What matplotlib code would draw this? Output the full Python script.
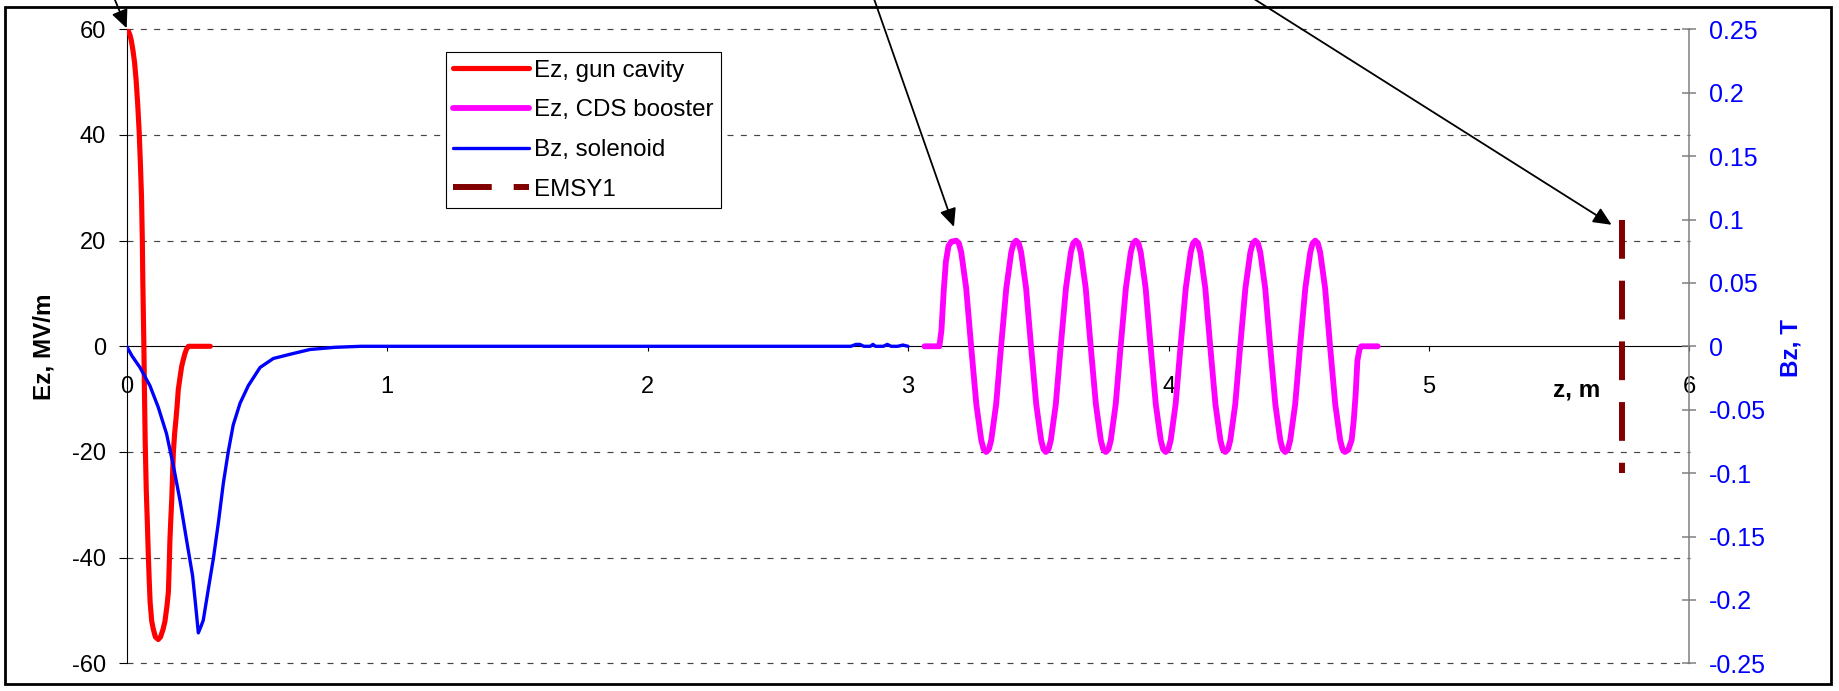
import matplotlib
matplotlib.use("Agg")
import matplotlib.pyplot as plt
from matplotlib.patches import Rectangle

plt.rcParams['font.family'] = ['Liberation Sans', 'DejaVu Sans']
plt.rcParams['lines.scale_dashes'] = False
plt.rcParams['axes.unicode_minus'] = False

# ---------------- field data ----------------
# gun cavity Ez [MV/m] versus z [m]
z_gun = [0.000, 0.006, 0.012, 0.018, 0.024, 0.030, 0.036, 0.042, 0.048, 0.053,
         0.057, 0.060, 0.062, 0.064, 0.066, 0.068, 0.071, 0.075, 0.079, 0.083,
         0.087, 0.090, 0.096, 0.102, 0.110, 0.121, 0.130, 0.140, 0.147, 0.155,
         0.160, 0.163, 0.166, 0.170, 0.173, 0.176, 0.179, 0.184, 0.189, 0.194,
         0.198, 0.205, 0.211, 0.218, 0.224, 0.230, 0.237, 0.260, 0.290, 0.321]
ez_gun = [60.0, 59.7, 59.0, 57.8, 56.0, 53.8, 50.5, 46.0, 40.5, 34.0,
          28.0, 20.0, 12.0, 6.0, 0.0, -8.0, -18.0, -27.0, -33.0, -39.5,
          -45.0, -48.5, -52.0, -53.5, -55.0, -55.5, -55.0, -53.5, -52.0, -49.0,
          -46.5, -42.0, -36.6, -32.0, -29.0, -24.5, -20.2, -16.5, -13.9, -11.0,
          -8.2, -5.8, -3.8, -2.4, -1.3, -0.5, 0.0, 0.0, 0.0, 0.0]

# CDS booster Ez [MV/m] versus z [m]
z_booster = [
    3.063, 3.120, 3.128, 3.137, 3.145, 3.155, 3.166,
    3.185, 3.195, 3.204, 3.223, 3.242, 3.262, 3.281, 3.290,
    3.300, 3.310, 3.319, 3.338, 3.357, 3.377, 3.396, 3.405,
    3.415, 3.425, 3.434, 3.453, 3.472, 3.492, 3.511, 3.520,
    3.529, 3.539, 3.548, 3.567, 3.586, 3.606, 3.625, 3.634,
    3.644, 3.654, 3.663, 3.682, 3.701, 3.721, 3.740, 3.749,
    3.759, 3.769, 3.778, 3.797, 3.816, 3.836, 3.855, 3.864,
    3.874, 3.884, 3.893, 3.912, 3.931, 3.951, 3.970, 3.979,
    3.989, 3.999, 4.008, 4.027, 4.046, 4.066, 4.085, 4.094,
    4.103, 4.113, 4.122, 4.141, 4.160, 4.180, 4.199, 4.208,
    4.218, 4.228, 4.237, 4.256, 4.275, 4.295, 4.314, 4.323,
    4.333, 4.343, 4.352, 4.371, 4.390, 4.410, 4.429, 4.438,
    4.448, 4.458, 4.467, 4.486, 4.505, 4.525, 4.544, 4.553,
    4.563, 4.573, 4.582, 4.601, 4.620, 4.640, 4.659, 4.668,
    4.677, 4.690, 4.703, 4.711, 4.718, 4.725, 4.733, 4.740, 4.803,
]
ez_booster = [
    0.0, 0.0, 3.0, 10.7, 16.0, 19.0, 19.8,
    20.0, 19.5, 17.8, 11.0, 0.0, -11.0, -17.8, -19.5,
    -20.0, -19.5, -17.8, -11.0, 0.0, 11.0, 17.8, 19.5,
    20.0, 19.5, 17.8, 11.0, 0.0, -11.0, -17.8, -19.5,
    -20.0, -19.5, -17.8, -11.0, 0.0, 11.0, 17.8, 19.5,
    20.0, 19.5, 17.8, 11.0, 0.0, -11.0, -17.8, -19.5,
    -20.0, -19.5, -17.8, -11.0, 0.0, 11.0, 17.8, 19.5,
    20.0, 19.5, 17.8, 11.0, 0.0, -11.0, -17.8, -19.5,
    -20.0, -19.5, -17.8, -11.0, 0.0, 11.0, 17.8, 19.5,
    20.0, 19.5, 17.8, 11.0, 0.0, -11.0, -17.8, -19.5,
    -20.0, -19.5, -17.8, -11.0, 0.0, 11.0, 17.8, 19.5,
    20.0, 19.5, 17.8, 11.0, 0.0, -11.0, -17.8, -19.5,
    -20.0, -19.5, -17.8, -11.0, 0.0, 11.0, 17.8, 19.5,
    20.0, 19.5, 17.8, 11.0, 0.0, -11.0, -17.8, -19.5,
    -20.0, -19.6, -17.7, -14.0, -9.3, -2.7, -0.5, 0.0, 0.0,
]

# solenoid Bz [T] versus z [m]
z_solenoid = [0.000, 0.020, 0.051, 0.089, 0.121, 0.153, 0.179, 0.205, 0.230, 0.253,
              0.265, 0.275, 0.285, 0.294, 0.313, 0.333, 0.352, 0.371, 0.390, 0.409,
              0.435, 0.467, 0.512, 0.563, 0.627, 0.704, 0.800, 0.900, 1.200, 1.600,
              2.000, 2.400, 2.780, 2.800, 2.815, 2.830, 2.855, 2.865, 2.875, 2.905,
              2.920, 2.935, 2.960, 2.980, 3.000]
bz_solenoid = [0.0, -0.0075, -0.0167, -0.031, -0.048, -0.069, -0.094, -0.122, -0.153, -0.181,
               -0.205, -0.226, -0.221, -0.216, -0.192, -0.167, -0.139, -0.108, -0.083, -0.062,
               -0.045, -0.031, -0.0167, -0.0096, -0.0063, -0.0025, -0.0008, 0.0, 0.0, 0.0,
               0.0, 0.0, 0.0, 0.0015, 0.0015, 0.0, 0.0, 0.0015, 0.0, 0.0,
               0.0015, 0.0, 0.0, 0.001, 0.0]

# EMSY1 screen station marker (drawn on the Bz axis)
z_emsy1 = [5.74, 5.74]
mark_emsy1 = [0.1, -0.1]

series_labels = ['Ez, gun cavity', 'Ez, CDS booster', 'Bz, solenoid', 'EMSY1']

# ---------------- axis scales ----------------
x_ticks = [0, 1, 2, 3, 4, 5, 6]
x_tick_labels = ['0', '1', '2', '3', '4', '5', '6']
ez_ticks = [-60, -40, -20, 0, 20, 40, 60]
ez_tick_labels = ['-60', '-40', '-20', '0', '20', '40', '60']
bz_ticks = [-0.25, -0.2, -0.15, -0.1, -0.05, 0.0, 0.05, 0.1, 0.15, 0.2, 0.25]
bz_tick_labels = ['-0.25', '-0.2', '-0.15', '-0.1', '-0.05', '0',
                  '0.05', '0.1', '0.15', '0.2', '0.25']

# pointer arrows (tail -> head), in z / Ez units
arrow_tails = [(-0.053, 66.5), (2.864, 66.5), (4.304, 66.5)]
arrow_heads = [(0.0, 60.2), (3.176, 22.6), (5.701, 23.0)]

# ---------------- figure ----------------
W, H, DPI = 1839, 691, 100
fig = plt.figure(figsize=(W / DPI, H / DPI), dpi=DPI)
fig.patch.set_facecolor('white')


def fx(px):
    return px / W


def fy(py):
    return 1.0 - py / H


x_left, x_right = 126.7, 1689.5
y_top, y_bottom = 29.3, 663.3
ax = fig.add_axes([fx(x_left), fy(y_bottom),
                   fx(x_right) - fx(x_left), fy(y_top) - fy(y_bottom)])
ax2 = ax.twinx()

ax.set_xlim(0, 6)
ax.set_ylim(-60, 60)
ax2.set_ylim(-0.25, 0.25)

# dashed horizontal grid (the zero level is the z axis itself)
grid_dash = (0, (4.3, 5.3))
for lev in ez_ticks:
    if lev != 0:
        ax.axhline(lev, color='#444444', lw=0.85, linestyle=grid_dash,
                   clip_on=False, zorder=1)

# series
l_gun, = ax.plot(z_gun, ez_gun, color='#FF0000', lw=3.7,
                 solid_capstyle='round', solid_joinstyle='round', zorder=3)
l_boost, = ax.plot(z_booster, ez_booster, color='#FF00FF', lw=4.2,
                   solid_capstyle='round', solid_joinstyle='round', zorder=3)
l_sol, = ax2.plot(z_solenoid, bz_solenoid, color='#0000FF', lw=2.4,
                  solid_capstyle='round', solid_joinstyle='round', zorder=3)
l_emsy, = ax2.plot(z_emsy1, mark_emsy1, color='#800000', lw=4.3,
                   linestyle=(0, (27.9, 15.8)), dash_capstyle='butt', zorder=3)

# primary axis styling
for side in ('top', 'right'):
    ax.spines[side].set_visible(False)
ax.spines['bottom'].set_position(('data', 0))
ax.spines['bottom'].set_linewidth(0.8)
ax.spines['left'].set_linewidth(0.8)
ax.set_xticks(x_ticks, x_tick_labels)
ax.set_yticks(ez_ticks, ez_tick_labels)
ax.tick_params(axis='x', direction='out', length=3.6, width=0.8, pad=18.0,
               labelsize=17, colors='black')
ax.tick_params(axis='y', direction='out', length=5.8, width=0.8, pad=9.0,
               labelsize=17, colors='black')

# secondary axis styling
for side in ('top', 'left', 'bottom'):
    ax2.spines[side].set_visible(False)
ax2.spines['right'].set_color('#808080')
ax2.spines['right'].set_linewidth(1.1)
ax2.set_yticks(bz_ticks, bz_tick_labels)
ax2.tick_params(axis='y', direction='inout', length=10, width=1.1,
                color='#808080', labelcolor='#0000FF', pad=8.9, labelsize=18)

# axis titles
fig.text(fx(44), fy(346.4), 'Ez, MV/m', rotation=90, ha='center', va='center',
         fontsize=17.5, fontweight='bold', color='black')
fig.text(fx(1791), fy(348), 'Bz, T', rotation=90, ha='center', va='center',
         fontsize=17.5, fontweight='bold', color='#0000FF')
fig.text(fx(1577), fy(397), 'z, m', ha='center', va='baseline',
         fontsize=17.5, fontweight='bold', color='black')

# pointer arrows
for tail, head in zip(arrow_tails, arrow_heads):
    ax.annotate('', xy=head, xytext=tail, xycoords='data', textcoords='data',
                annotation_clip=False,
                arrowprops=dict(arrowstyle='-|>,head_length=0.55,head_width=0.25',
                                color='black', lw=1.3, mutation_scale=20,
                                shrinkA=0, shrinkB=0))

# legend
leg = ax2.legend([l_gun, l_boost, l_sol, l_emsy], series_labels,
                 loc='upper left', bbox_to_anchor=(fx(446), fy(52.3)),
                 bbox_transform=fig.transFigure, borderaxespad=0,
                 fontsize=17.4, handlelength=3.14, handletextpad=0.19,
                 borderpad=0.31, labelspacing=0.73, fancybox=False,
                 framealpha=1, edgecolor='black')
leg.get_frame().set_linewidth(0.8)

# outer chart border
fig.add_artist(Rectangle((fx(4.7), fy(684.3)), fx(1831) - fx(4.7), fy(6.6) - fy(684.3),
                         transform=fig.transFigure, fill=False,
                         edgecolor='black', lw=2.0, zorder=10))

fig.savefig('out.png', dpi=DPI)
